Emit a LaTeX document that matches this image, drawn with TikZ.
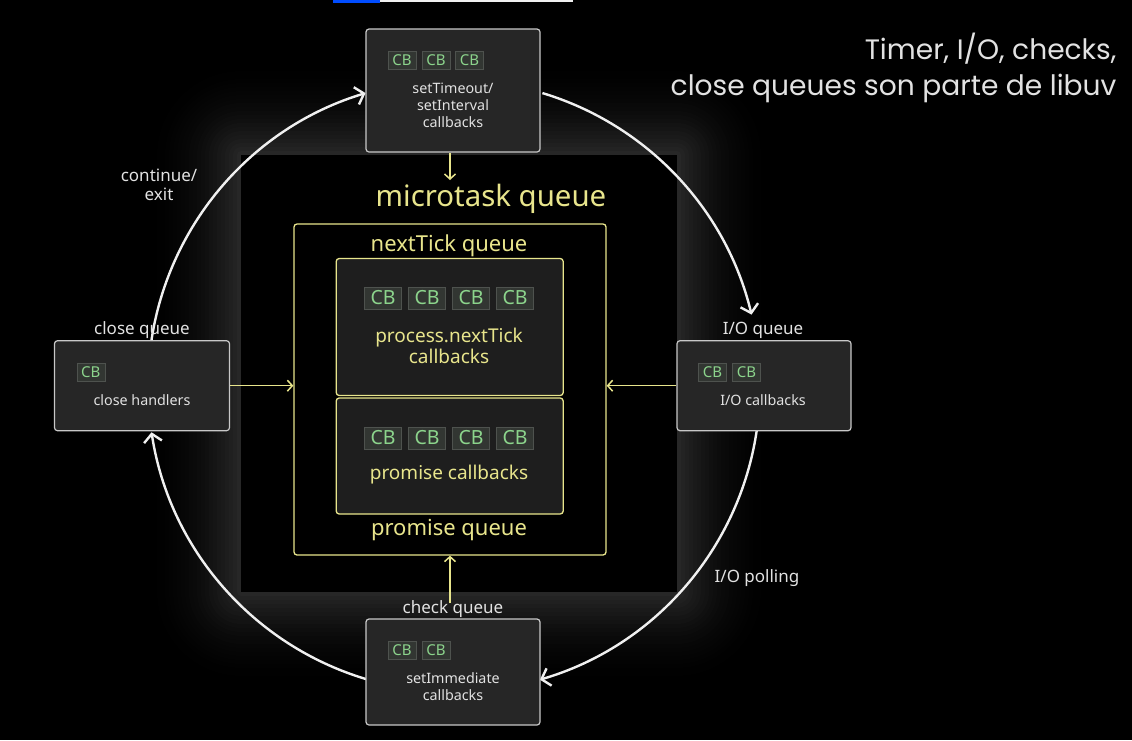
\documentclass[tikz,border=0pt]{standalone}
\usepackage{fontspec}
\setmainfont{Noto Sans}
\newfontfamily\titlefont{Poppins}
\usetikzlibrary{arrows.meta}

\definecolor{loopwhite}{RGB}{240,240,240}
\definecolor{labelwhite}{RGB}{226,226,226}
\definecolor{qyellow}{RGB}{232,229,140}
\definecolor{boxgray}{RGB}{38,38,38}
\definecolor{boxedge}{RGB}{200,200,200}
\definecolor{innergray}{RGB}{30,30,30}
\definecolor{cbfill}{RGB}{50,54,50}
\definecolor{cbedge}{RGB}{78,82,78}
\definecolor{cbgreen}{RGB}{140,212,140}
\definecolor{glowgray}{RGB}{42,42,42}

\begin{document}
\begin{tikzpicture}[x=1pt, y=1pt,
  queuebox/.style={draw=boxedge, fill=boxgray, line width=1.2pt, rounded corners=3pt, inner sep=0pt},
  tickbox/.style={draw=qyellow, line width=1.3pt, rounded corners=3pt, inner sep=0pt},
  cbsmall/.style={draw=cbedge, fill=cbfill, text=cbgreen, inner sep=0pt, minimum width=28pt, minimum height=18pt, font=\fontsize{15}{15}\selectfont},
  cbbig/.style={cbsmall, minimum width=37pt, minimum height=22pt, font=\fontsize{19.5}{19.5}\selectfont},
  boxtext/.style={text=labelwhite, align=center, font=\fontsize{14.3}{17}\selectfont},
  qlabel/.style={text=labelwhite, align=center, font=\fontsize{17}{19}\selectfont},
  ytext/.style={text=qyellow, align=center},
  cyclearc/.style={draw=loopwhite, line width=2.4pt, -{Straight Barb[length=8pt,width=18pt]}},
  ylink/.style={draw=qyellow, line width=1.5pt, -{Straight Barb[length=5pt,width=11pt]}}]
  \useasboundingbox (0,0) rectangle (1132,-740);
  \fill[black] (0,0) rectangle (1132,-740);
  \fill[blue!70!cyan] (333,0) rectangle (380,-2.5);
  \fill[loopwhite] (380,0) rectangle (573,-2);
  \foreach \d in {96,92,...,0} {
    \pgfmathsetmacro\pct{100*(1-\d/96)^2}
    \fill[glowgray!\pct!black, rounded corners=\d pt] (241-\d,-155+\d) rectangle (677+\d,-592-\d);
  }
  \fill[black] (241,-155) rectangle (677,-592);

  \coordinate (c0) at (454,-386);
  \coordinate (arcA) at ([shift={(171.5:306)}]c0);
  \coordinate (arcB) at ([shift={(73.2:306)}]c0);
  \coordinate (arcC) at ([shift={(-8.3:306)}]c0);
  \coordinate (arcD) at ([shift={(-106.7:306)}]c0);
  \draw[cyclearc] (arcA) arc[start angle=171.5, end angle=106.8, radius=306pt];
  \draw[cyclearc] (arcB) arc[start angle=73.2, end angle=13.5, radius=306pt];
  \draw[cyclearc] (arcC) arc[start angle=-8.3, end angle=-73.7, radius=306pt];
  \draw[cyclearc] (arcD) arc[start angle=-106.7, end angle=-171.3, radius=306pt];

  \node[queuebox, minimum width=174pt, minimum height=123pt] (timers) at (453,-90.5) {};
  \node[cbsmall] (cbt1) at (402,-60) {CB};
  \node[cbsmall] (cbt2) at (436,-60) {CB};
  \node[cbsmall] (cbt3) at (469.5,-60) {CB};
  \node[boxtext] (timerstxt) at (453,-105) {setTimeout/\\setInterval\\callbacks};

  \node[qlabel] (closelbl) at (142,-330) {close queue};
  \node[queuebox, minimum width=175pt, minimum height=90pt] (closeq) at (142,-385.7) {};
  \node[cbsmall] (cbc1) at (90.7,-372) {CB};
  \node[boxtext] (closetxt) at (142,-400) {close handlers};

  \node[qlabel] (iolbl) at (763,-330) {I/O queue};
  \node[queuebox, minimum width=174pt, minimum height=90pt] (ioq) at (764,-385.7) {};
  \node[cbsmall] (cbi1) at (712.5,-372) {CB};
  \node[cbsmall] (cbi2) at (746.5,-372) {CB};
  \node[boxtext] (iotxt) at (763,-400) {I/O callbacks};

  \node[queuebox, minimum width=174pt, minimum height=106pt] (checkq) at (453,-672) {};
  \node[cbsmall] (cbk1) at (402,-650) {CB};
  \node[cbsmall] (cbk2) at (436,-650) {CB};
  \node[boxtext] (checktxt) at (453,-686.5) {setImmediate\\callbacks};

  \node[ytext, font=\fontsize{29.4}{29.4}\selectfont] (micro) at (491,-198.5) {microtask queue};
  \node[tickbox, minimum width=312pt, minimum height=331pt] (ticks) at (450,-389.5) {};
  \node[ytext, font=\fontsize{22}{22}\selectfont] (tickslbl) at (449,-245.5) {nextTick queue};
  \node[tickbox, fill=innergray, minimum width=227pt, minimum height=137pt] (tickcb) at (449.7,-327) {};
  \node[tickbox, fill=innergray, minimum width=227pt, minimum height=116pt] (promcb) at (449.7,-456) {};
  \node[ytext, font=\fontsize{22}{22}\selectfont] (promlbl) at (449,-530) {promise queue};

  \node[cbbig] (cbn1) at (383,-298) {CB};
  \node[cbbig] (cbn2) at (427,-298) {CB};
  \node[cbbig] (cbn3) at (471,-298) {CB};
  \node[cbbig] (cbn4) at (515,-298) {CB};
  \node[ytext, font=\fontsize{19}{21.5}\selectfont] (ticktxt) at (449,-346) {process.nextTick\\callbacks};
  \node[cbbig] (cbp1) at (383,-438) {CB};
  \node[cbbig] (cbp2) at (427,-438) {CB};
  \node[cbbig] (cbp3) at (471,-438) {CB};
  \node[cbbig] (cbp4) at (515,-438) {CB};
  \node[ytext, font=\fontsize{19}{21.5}\selectfont] (promtxt) at (449,-475) {promise callbacks};

  \coordinate (microin) at (450,-180);
  \coordinate (checkout) at (450,-603);
  \draw[ylink] (timers.south -| microin) -- (microin);
  \draw[ylink] (closeq.east) -- (ticks.west |- closeq.east);
  \draw[ylink] (ioq.west) -- (ticks.east |- ioq.west);
  \draw[ylink] (checkout) -- (ticks.south -| checkout);
  \node[qlabel] (checklbl) at (453,-609) {check queue};

  \node[qlabel] (exitlbl) at (159,-184.5) {continue/\\exit};
  \node[qlabel] (polllbl) at (757,-578) {I/O polling};
  \node[anchor=east, align=right, text=labelwhite, font=\titlefont\fontsize{28.1}{36}\selectfont] (libuv) at (1120,-68) {Timer, I/O, checks,\\close queues son parte de libuv};
\end{tikzpicture}
\end{document}
